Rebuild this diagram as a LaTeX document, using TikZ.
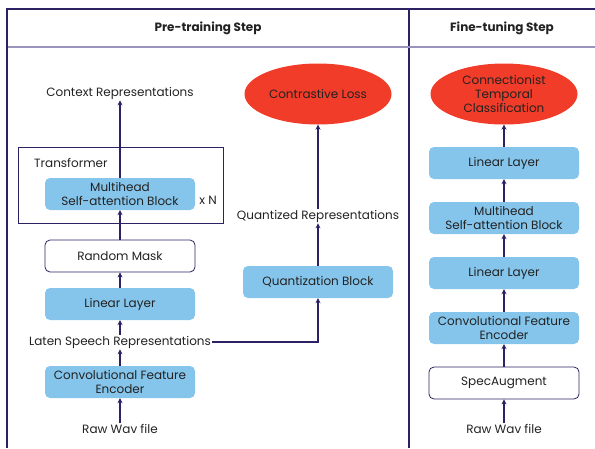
\documentclass[tikz,border=0pt]{standalone}
\usepackage{fontspec}
\setmainfont{Poppins}
\usetikzlibrary{arrows.meta,shapes.geometric}
\definecolor{lineC}{RGB}{46,33,99}
\definecolor{sepC}{RGB}{155,147,187}
\definecolor{blueC}{RGB}{133,197,235}
\definecolor{redC}{RGB}{240,60,40}
\definecolor{txtC}{RGB}{34,34,34}
\begin{document}
\begin{tikzpicture}[x=1pt,y=-1pt,
  font=\fontsize{12}{14}\selectfont, text=txtC,
  bluebox/.style={rectangle, rounded corners=5pt, fill=blueC, minimum width=150pt, minimum height=32pt, align=center, inner sep=1pt},
  whitebox/.style={rectangle, rounded corners=5pt, fill=white, draw=lineC, line width=0.8pt, minimum width=150pt, minimum height=32pt, align=center, inner sep=1pt},
  lossell/.style={ellipse, fill=redC, minimum width=147pt, minimum height=61pt, align=center, inner sep=0pt},
  lbl/.style={align=center, inner sep=1pt},
  arr/.style={draw=lineC, line width=1.2pt, -{Stealth[length=5pt,width=5pt]}},
  frameline/.style={draw=lineC, line width=1.1pt}]
\useasboundingbox (0,0) rectangle (595,448);
% frame
\draw[frameline] (7,448) -- (7,9) -- (595,9);
\draw[frameline] (409,9) -- (409,448);
\draw[draw=sepC, line width=1.6pt] (7.5,47) -- (595,47);
\node[font=\fontsize{12}{14}\selectfont\bfseries] (h1) at (208,28) {Pre-training Step};
\node[font=\fontsize{12}{14}\selectfont\bfseries] (h2) at (502,28) {Fine-tuning Step};
% left pane
\node[lbl] (ctx) at (120,93) {Context Representations};
\draw[frameline, line width=0.9pt] (18,147) rectangle (223,223);
\node[lbl, anchor=west] (tr) at (33,163) {Transformer};
\node[bluebox] (mh) at (120,194) {Multihead\\Self-attention Block};
\node[lbl] (xn) at (208,200) {x N};
\node[whitebox] (rm) at (120,256) {Random Mask};
\node[bluebox] (ll) at (120,304) {Linear Layer};
\node[lbl] (lat) at (120,342) {Laten Speech Representations};
\node[bluebox] (cfe) at (120,382) {Convolutional Feature\\Encoder};
\node[lbl] (raw) at (120,429) {Raw Wav file};
\node[bluebox] (qb) at (318,282) {Quantization Block};
\node[lbl] (qr) at (318,216) {Quantized Representations};
\node[lossell] (cl) at (318,94) {Contrastive Loss};
\draw[arr] (raw.north) -- (cfe.south);
\draw[arr] (cfe.north) -- (lat.south);
\draw[arr] (lat.north) -- (ll.south);
\draw[arr] (ll.north) -- (rm.south);
\draw[arr] (rm.north) -- (mh.south);
\draw[arr] (mh.north) -- (ctx.south);
\draw[arr] (lat.east) -- (lat.east -| qb.south) -- (qb.south);
\draw[arr] (qb.north) -- (qr.south);
\draw[arr] (qr.north) -- (cl.south);
% right pane
\node[lossell] (ctc) at (504,94) {Connectionist\\Temporal\\Classification};
\node[bluebox] (rl2) at (504,163) {Linear Layer};
\node[bluebox] (rmh) at (504,218) {Multihead\\Self-attention Block};
\node[bluebox] (rl1) at (504,273) {Linear Layer};
\node[bluebox] (rcfe) at (504,328) {Convolutional Feature\\Encoder};
\node[whitebox] (sa) at (504,383) {SpecAugment};
\node[lbl] (rraw) at (504,429) {Raw Wav file};
\draw[arr] (rraw.north) -- (sa.south);
\draw[arr] (sa.north) -- (rcfe.south);
\draw[arr] (rcfe.north) -- (rl1.south);
\draw[arr] (rl1.north) -- (rmh.south);
\draw[arr] (rmh.north) -- (rl2.south);
\draw[arr] (rl2.north) -- (ctc.south);
\end{tikzpicture}
\end{document}
